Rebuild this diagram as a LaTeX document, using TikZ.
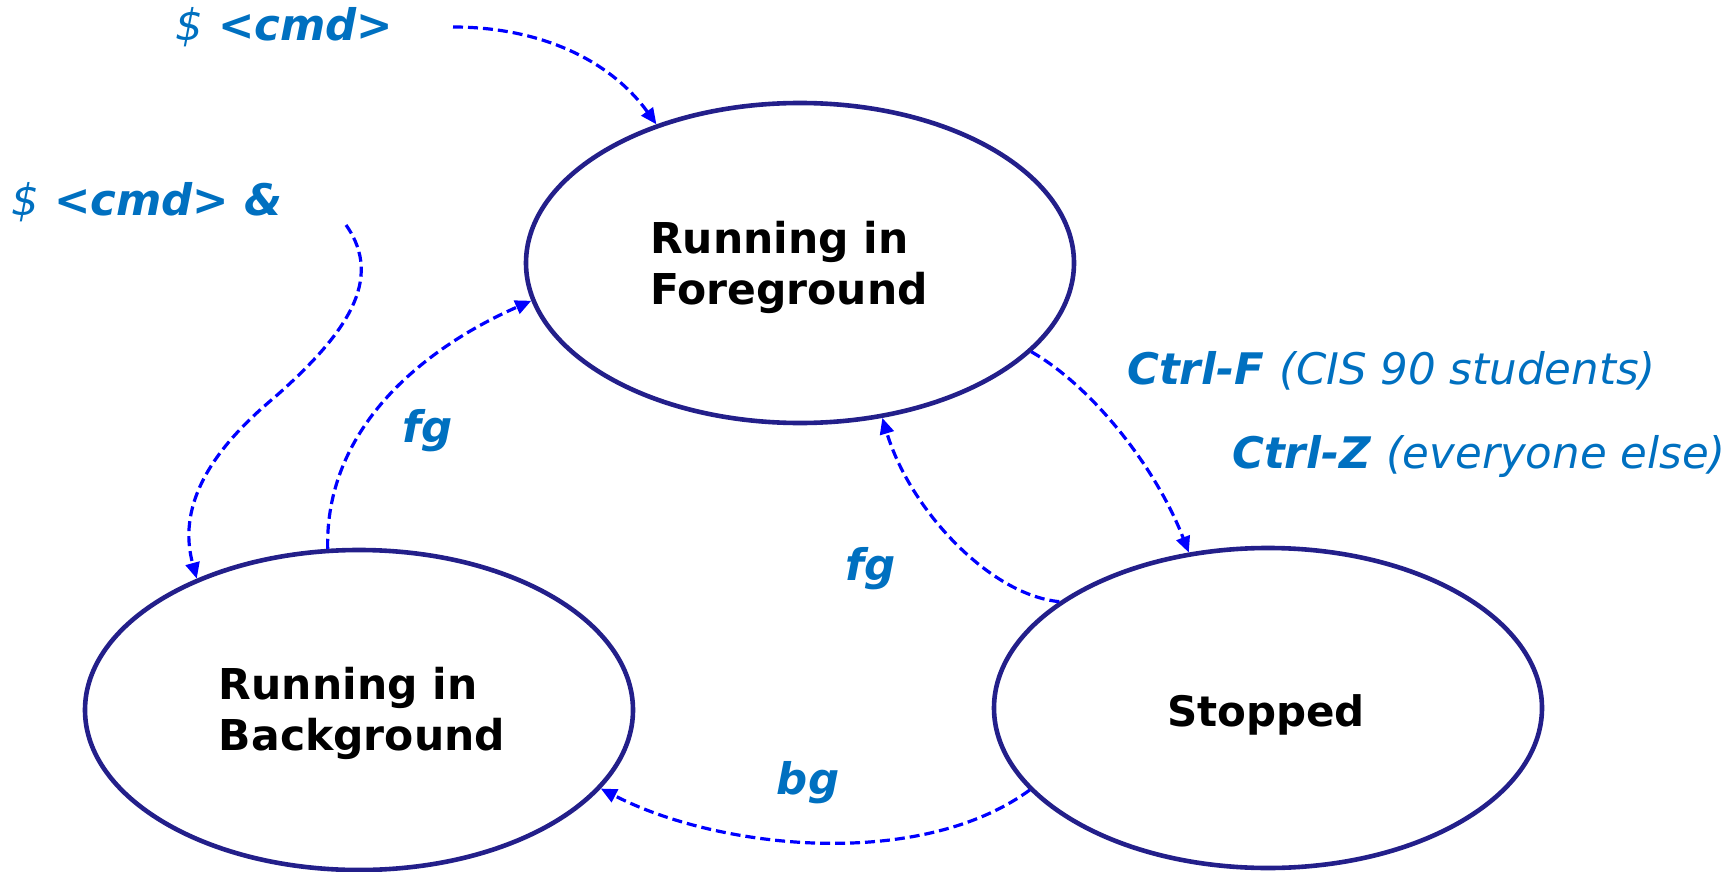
\documentclass[tikz,border=0pt]{standalone}
\usepackage{fontspec}
\setmainfont{DejaVu Sans}
\usetikzlibrary{arrows.meta,shapes.geometric}
\definecolor{navy}{RGB}{35,31,138}
\definecolor{dashblue}{RGB}{0,0,255}
\definecolor{txtblue}{RGB}{0,112,192}
\begin{document}
\begin{tikzpicture}[x=1pt,y=-1pt,
  state/.style={ellipse, draw=navy, line width=4.6pt, minimum width=548pt, minimum height=320pt, inner sep=0pt},
  statetext/.style={inner sep=0pt, font=\bfseries\fontsize{42.5}{51}\selectfont, align=left},
  conn/.style={draw=dashblue, line width=3.2pt, dash pattern=on 10pt off 5pt, -{Triangle[length=16pt,width=14pt]}},
  lbl/.style={text=txtblue, font=\bfseries\itshape\fontsize{43.5}{50}\selectfont, inner sep=0pt}
]
\useasboundingbox (0,0) rectangle (1733,872);
\node[state] (fg) at (800,263) {};
\node[state] (bg) at (359,710) {};
\node[state] (st) at (1268,708) {};
\node[statetext] (fgt) at (789,267) {Running in\\Foreground};
\node[statetext] (bgt) at (362,713) {Running in\\Background};
\node[statetext] (stt) at (1266,715) {\fontsize{42}{51}\selectfont Stopped};

\node[lbl, anchor=west] (cmd) at (175,27) {{\mdseries\$} <cmd>};
\node[lbl, anchor=west] (cmdbg) at (11,202) {{\mdseries\$} <cmd> \&};
\node[lbl, anchor=west] (ctrlf) at (1127,371) {Ctrl-F {\mdseries(CIS 90 students)}};
\node[lbl, anchor=west] (ctrlz) at (1232,456) {Ctrl-Z {\mdseries(everyone else)}};
\node[lbl] (fga) at (428,431) {fg};
\node[lbl] (fgb) at (871,569) {fg};
\node[lbl] (bgl) at (808,783) {bg};

\coordinate (s1) at (453,27);
\coordinate (s2) at (346,225);
\coordinate (m2) at (275,397);

\draw[conn] (s1) .. controls (540,27) and (610,60) .. (fg.136);
\draw[conn] (s2) .. controls (385,280) and (345,335) .. (m2) .. controls (205,455) and (178,510) .. (bg.141);
\draw[conn] (bg.101) .. controls (325,430) and (420,350) .. (fg.188);
\draw[conn] (fg.339) .. controls (1090,385) and (1155,465) .. (st.117);
\draw[conn] (st.153) .. controls (990,595) and (910,510) .. (fg.298);
\draw[conn] (st.199) .. controls (920,870) and (720,850) .. (bg.342);
\end{tikzpicture}
\end{document}
